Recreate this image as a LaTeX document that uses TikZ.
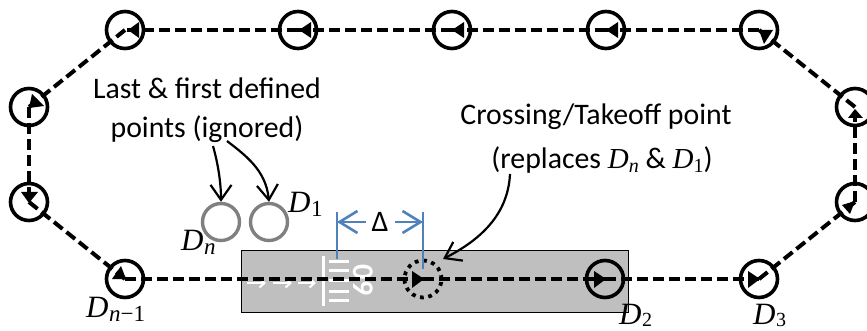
\documentclass[tikz,border=0pt]{standalone}
\usepackage{fontspec}
\setmainfont{Carlito}
\newfontfamily\dserif{Liberation Serif}
\usetikzlibrary{arrows.meta}
\newcommand{\Dsym}[1]{{\fontsize{31}{31}\selectfont\dserif\itshape D\kern0.5pt\raisebox{-4pt}{\fontsize{23}{23}\selectfont #1}}}
\newcommand{\Dlow}[1]{{\fontsize{31}{31}\selectfont\dserif\itshape D\kern0.5pt\raisebox{-2pt}{\fontsize{20}{20}\selectfont #1}}}
\newcommand{\Dinl}[1]{{\fontsize{29}{29}\selectfont\dserif\itshape D\raisebox{-4pt}{\fontsize{20}{20}\selectfont #1}}}
\definecolor{dimblue}{HTML}{4F81BD}
\definecolor{rwy}{HTML}{BFBFBF}
\tikzset{
  wpt/.style={circle,draw=black,line width=3.6pt,minimum size=37pt,inner sep=0pt},
  oldpt/.style={circle,draw=black!50,line width=3.4pt,minimum size=37pt,inner sep=0pt},
  crosspt/.style={circle,draw=black,line width=3.8pt,minimum size=37pt,inner sep=0pt,dash pattern=on 3.8pt off 4.6pt},
  leg/.style={line width=4pt,dash pattern=on 11pt off 5pt},
  tri/.style={fill=black},
  note/.style={font=\fontsize{29.8}{29.8}\selectfont,inner sep=0pt},
  lbl/.style={inner sep=0pt,anchor=base west},
  callout/.style={line width=2.2pt,-{Straight Barb[length=15pt,width=21pt,line width=2.2pt]}},
  dimline/.style={draw=dimblue,line width=2.6pt},
  dimarrow/.style={draw=dimblue,line width=2.6pt,-{Straight Barb[length=18pt,width=22pt,line width=2.6pt]}},
  paint/.style={draw=white,line width=3pt},
  rwyarrow/.style={draw=white,line width=2.6pt,-{Straight Barb[length=5pt,width=9pt,line width=2pt]}}
}
\begin{document}
\begin{tikzpicture}[x=1pt,y=-1pt]
\useasboundingbox (0,0) rectangle (867,331);
% runway
\node[draw=black,line width=0.9pt,fill=rwy,minimum width=387pt,minimum height=62pt,inner sep=0pt] (runway) at (434.5,281) {};
\draw[paint] (323,256) -- (323,306);
\foreach \yy in {261,270,280,291,300} \draw[paint] (329,\yy) -- (349,\yy);
\draw[rwyarrow] (247,283) -- (266,283);
\draw[rwyarrow] (273,283) -- (292,283);
\draw[rwyarrow] (298,283) -- (316,283);
\node[text=white,font=\fontsize{30}{30}\selectfont\bfseries,rotate=-90,inner sep=0pt] (rwynum) at (363,280) {09};
% waypoints
\node[wpt] (t1) at (125,30) {};
\node[wpt] (t2) at (298,30) {};
\node[wpt] (t3) at (452,30) {};
\node[wpt] (t4) at (606,30) {};
\node[wpt] (t5) at (759,30) {};
\node[wpt] (l1) at (29,107) {};
\node[wpt] (l2) at (29,202) {};
\node[wpt] (r1) at (855,107) {};
\node[wpt] (r2) at (855,202) {};
\node[wpt] (dn1) at (125,279) {};
\node[wpt] (d2) at (605,279) {};
\node[wpt] (d3) at (759,279) {};
\node[crosspt] (cross) at (423,279) {};
\node[oldpt] (dn) at (221,222) {};
\node[oldpt] (d1) at (269,222) {};
% legs
\draw[leg] (dn1.center) -- (cross.center);
\draw[leg] (cross.center) -- (d2.center);
\draw[leg] (d2.center) -- (d3.center);
\draw[leg] (d3.center) -- (r2.center);
\draw[leg] (r2.center) -- (r1.center);
\draw[leg] (r1.center) -- (t5.center);
\draw[leg] (t5.center) -- (t4.center);
\draw[leg] (t4.center) -- (t3.center);
\draw[leg] (t3.center) -- (t2.center);
\draw[leg] (t2.center) -- (t1.center);
\draw[leg] (t1.center) -- (l1.center);
\draw[leg] (l1.center) -- (l2.center);
\draw[leg] (l2.center) -- (dn1.center);
% direction triangles
\fill[tri] (128,30) -- (139,22) -- (139,38) -- cycle;
\fill[tri] (299,30) -- (311,22) -- (311,38) -- cycle;
\fill[tri] (452,30) -- (464,22) -- (464,38) -- cycle;
\fill[tri] (606,30) -- (618,22) -- (618,38) -- cycle;
\fill[tri] (759,30) -- (773,30) -- (764,44) -- cycle;
\fill[tri] (32,94) -- (44,106) -- (29,108) -- cycle;
\fill[tri] (21,192) -- (38,192) -- (29,203) -- cycle;
\fill[tri] (112,279) -- (121,266) -- (126,279) -- cycle;
\fill[tri] (412,271) -- (424,279) -- (412,288) -- cycle;
\fill[tri] (594,271) -- (606,279) -- (594,288) -- cycle;
\fill[tri] (748,271) -- (760,279) -- (748,288) -- cycle;
\fill[tri] (855,109) -- (848,118) -- (863,118) -- cycle;
\fill[tri] (855,201) -- (842,205) -- (850,214) -- cycle;
% labels
\node[note] (lastA) at (207,88) {Last \& first defined};
\node[note] (lastB) at (207,129) {points (ignored)};
\node[note] (crossA) at (596,117) {Crossing/Takeoff point};
\node[note] (crossB) at (602,160) {(replaces \Dinl{n} \& \Dinl{\upshape 1})};
\node[lbl] (ldn) at (181,250) {\Dsym{n}};
\node[lbl] (ld1) at (288,213) {\Dsym{\upshape 1}};
\node[lbl] (ldn1) at (86,317) {\Dsym{n\upshape −1}};
\node[lbl] (ld2) at (619,324) {\Dlow{\upshape 2}};
\node[lbl] (ld3) at (753,324) {\Dlow{\upshape 3}};
% callouts
\coordinate (cA) at (213,146);
\coordinate (cB) at (227,141);
\coordinate (cC) at (510,174);
\draw[callout] (cA) .. controls (217,160) and (221,180) .. (dn.north);
\draw[callout] (cB) .. controls (245,155) and (266,170) .. (d1.north);
\draw[callout] (cC) .. controls (508,215) and (480,240) .. (443,259);
% dimension
\coordinate (dA) at (337,212);
\coordinate (dAe) at (337,259);
\coordinate (dB) at (423,212);
\coordinate (dBe) at (423,269);
\node[note] (delta) at (380,222) {Δ};
\draw[dimline] (dA) -- (dAe);
\draw[dimline] (dB) -- (dBe);
\coordinate (dAm) at (337,222);
\coordinate (dBm) at (423,222);
\draw[dimarrow] (366,222) -- (dAm);
\draw[dimarrow] (395,222) -- (dBm);
\end{tikzpicture}
\end{document}
